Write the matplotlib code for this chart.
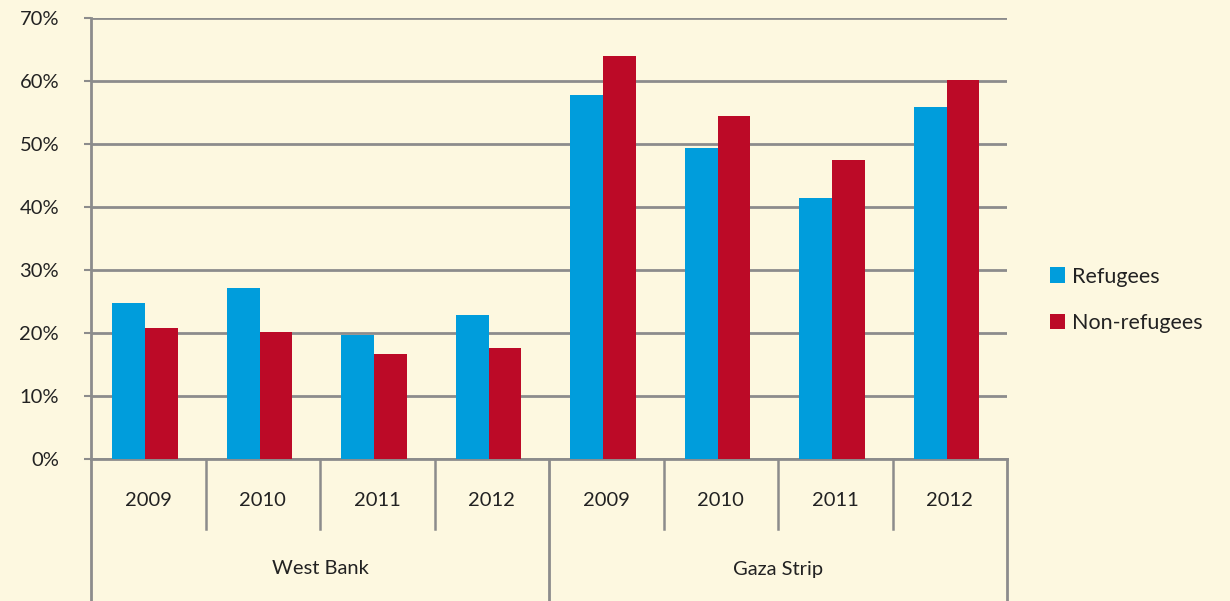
import matplotlib
matplotlib.use("Agg")
import matplotlib.pyplot as plt
from matplotlib.patches import Patch

# ---- data ----
years = ["2009", "2010", "2011", "2012", "2009", "2010", "2011", "2012"]
regions = ["West Bank", "Gaza Strip"]
refugees = [24.8, 27.1, 19.7, 22.9, 57.8, 49.4, 41.4, 55.9]
non_refugees = [20.8, 20.2, 16.7, 17.6, 63.9, 54.4, 47.5, 60.2]
series_names = ["Refugees", "Non-refugees"]
y_ticks = [0, 10, 20, 30, 40, 50, 60, 70]

# ---- style ----
BG = "#FDF8E0"
GRID = "#8C8C8C"
BLUE = "#009DDC"
RED = "#BC0A27"
TXT = "#222222"
plt.rcParams["font.family"] = ["Lato", "DejaVu Sans"]

fig = plt.figure(figsize=(12.3, 6.01), dpi=100, facecolor=BG)
ax = fig.add_axes([91 / 1230, 1 - 459 / 601, (1007 - 91) / 1230, (459 - 18) / 601])
ax.set_facecolor(BG)

x = list(range(len(years)))
w = 0.285
ax.bar([i - 0.17 for i in x], refugees, width=w, color=BLUE, zorder=3, label=series_names[0])
ax.bar([i + 0.115 for i in x], non_refugees, width=w, color=RED, zorder=3, label=series_names[1])

ax.set_xlim(-0.5, len(years) - 0.5)
ax.set_ylim(0, 70)
ax.set_yticks(y_ticks)
ax.set_yticklabels([f"{v}%" for v in y_ticks], fontsize=14.5, color=TXT)
ax.yaxis.grid(True, color=GRID, linewidth=2.0, zorder=1)
ax.tick_params(axis="y", length=5, width=1.5, color=GRID, pad=18)

for s in ["top", "right"]:
    ax.spines[s].set_visible(False)
ax.spines["left"].set_color(GRID)
ax.spines["left"].set_linewidth(2.0)
ax.spines["bottom"].set_color(GRID)
ax.spines["bottom"].set_linewidth(2.0)

# year labels
ax.set_xticks(x)
ax.set_xticklabels(years, fontsize=14.5, color=TXT)
ax.tick_params(axis="x", length=0, pad=24)

# category table lines below the axis
tr = ax.get_xaxis_transform()
axh_px = 459 - 18
short = -70 / axh_px
long_ = -145 / axh_px
for b in [0.5, 1.5, 2.5, 4.5, 5.5, 6.5]:
    ax.plot([b, b], [0, short], transform=tr, color=GRID, lw=1.8, clip_on=False, zorder=2)
for b in [-0.5, 3.5, 7.5]:
    ax.plot([b, b], [0, long_], transform=tr, color=GRID, lw=2.0, clip_on=False, zorder=2)

# region labels
for k, name in enumerate(regions):
    ax.text(1.5 + 4 * k, -110 / axh_px, name, transform=tr, ha="center", va="center",
            fontsize=14.5, color=TXT)

# legend
handles = [Patch(facecolor=BLUE, edgecolor="none"), Patch(facecolor=RED, edgecolor="none")]
fig.legend(handles, series_names, loc="center left", bbox_to_anchor=(1031 / 1230, 1 - 300 / 601),
           frameon=False, fontsize=15.5, handlelength=0.7, handleheight=0.7,
           handletextpad=0.3, labelspacing=1.25, labelcolor=TXT)

fig.savefig("out.png", dpi=100, facecolor=BG)
